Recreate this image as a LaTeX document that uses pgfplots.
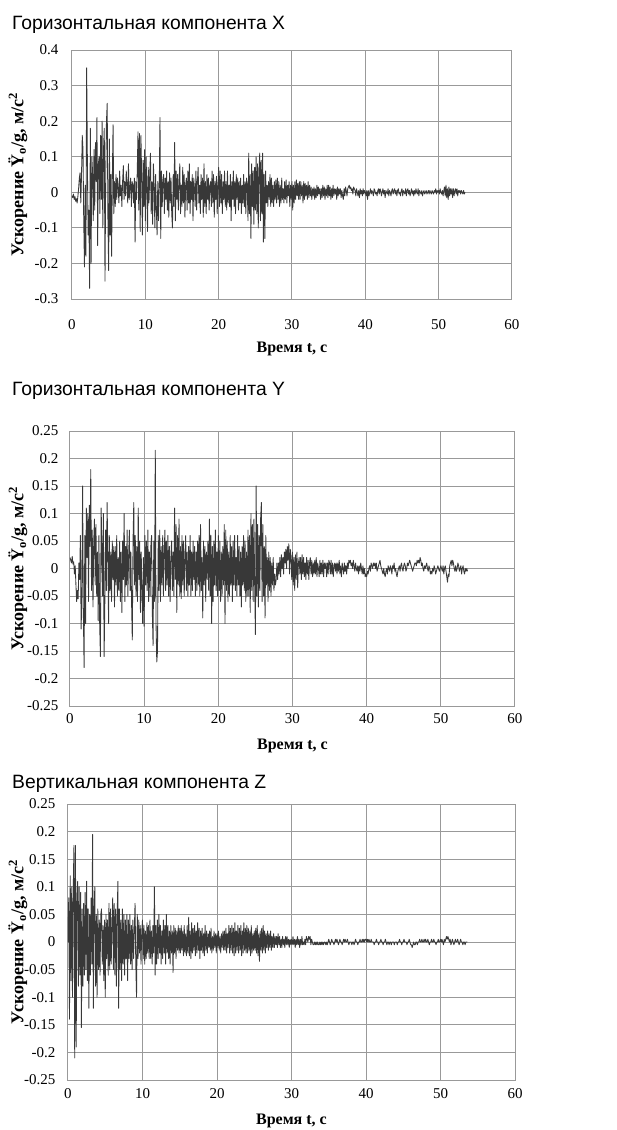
\documentclass[border=0pt]{standalone}
\usepackage{pgfplots}
\pgfplotsset{compat=1.18}
\usepackage{fontspec}
\setmainfont{Liberation Serif}
\newfontfamily\arialfont{Liberation Sans}

\pgfplotsset{
  seis/.style={
    scale only axis,
    xmin=0, xmax=60,
    xtick={0,10,...,60},
    grid=major,
    major grid style={draw=black!40, line width=1pt},
    axis line style={draw=black!40, line width=1pt},
    major tick length=0pt,
    tick label style={font=\fontsize{15}{16}\selectfont},
    scaled y ticks=false,
    /pgf/number format/assume math mode=true,
    yticklabel style={/pgf/number format/fixed, /pgf/number format/precision=2},
    xlabel style={font=\bfseries\fontsize{16}{18}\selectfont},
    ylabel style={font=\bfseries\fontsize{18}{20}\selectfont},
    xlabel={Время t, с},
    ylabel={Ускорение Ÿ\textsubscript{o}/g, м/с\textsuperscript{2}},
    ylabel style={anchor=center},
    xlabel style={anchor=center},
  },
  sig/.style={draw=black!78, line width=0.85pt, line join=round, mark=none},
}

\begin{document}
\begin{tikzpicture}
\useasboundingbox (0pt,0pt) rectangle (617pt,-1130pt);

\node[anchor=west, font=\arialfont\fontsize{19.3}{21}\selectfont, inner sep=0pt] at (12pt,-25pt) {Горизонтальная компонента X};
\node[anchor=west, font=\arialfont\fontsize{19.3}{21}\selectfont, inner sep=0pt] at (12pt,-391pt) {Горизонтальная компонента Y};
\node[anchor=west, font=\arialfont\fontsize{19.3}{21}\selectfont, inner sep=0pt] at (12pt,-784pt) {Вертикальная компонента Z};

% ---------------- X ----------------
\begin{axis}[seis, at={(72pt,-299pt)}, anchor=south west,
  width=440pt, height=249pt,
  ymin=-0.3, ymax=0.4, ytick={-0.3,-0.2,...,0.4},
  xticklabel style={yshift=-17pt},
  yticklabel style={xshift=-10pt},
  xlabel style={at={(axis description cs:0.5,-0.20)}},
  ylabel style={at={(axis description cs:-0.123,0.5)}},
]
\addplot[sig] table[header=false, row sep=\\, x expr=\coordindex*0.1, y index=0] {
-0.010\\ -0.015\\ -0.005\\ -0.020\\ -0.012\\ -0.025\\ -0.018\\ -0.030\\ -0.012\\ 0.010\\
0.040\\ 0.055\\ -0.030\\ 0.050\\ 0.160\\ 0.120\\ -0.080\\ -0.210\\ 0.020\\ -0.180\\
0.350\\ 0.080\\ -0.120\\ -0.050\\ -0.270\\ 0.180\\ -0.200\\ 0.100\\ 0.060\\ -0.080\\
0.120\\ -0.050\\ 0.140\\ 0.030\\ 0.210\\ -0.150\\ 0.080\\ 0.100\\ -0.060\\ 0.160\\
-0.020\\ 0.200\\ -0.100\\ 0.120\\ 0.180\\ -0.250\\ 0.050\\ 0.200\\ 0.250\\ -0.080\\
-0.220\\ 0.150\\ -0.120\\ 0.050\\ -0.180\\ 0.040\\ 0.190\\ -0.060\\ 0.030\\ -0.040\\
0.050\\ -0.020\\ 0.040\\ 0.010\\ -0.030\\ 0.060\\ -0.010\\ 0.020\\ -0.040\\ 0.030\\
0.075\\ -0.020\\ 0.030\\ -0.010\\ 0.060\\ 0.020\\ -0.030\\ 0.080\\ -0.020\\ 0.010\\
0.040\\ -0.040\\ 0.030\\ 0.020\\ -0.030\\ 0.040\\ -0.140\\ 0.030\\ -0.020\\ 0.060\\
0.170\\ -0.050\\ 0.165\\ -0.110\\ 0.160\\ 0.040\\ -0.120\\ 0.090\\ -0.040\\ 0.120\\
-0.080\\ 0.100\\ 0.020\\ -0.110\\ 0.070\\ -0.030\\ 0.050\\ 0.110\\ -0.060\\ 0.030\\
-0.090\\ 0.080\\ 0.020\\ -0.100\\ 0.050\\ -0.040\\ -0.120\\ 0.030\\ -0.080\\ 0.020\\
0.210\\ -0.130\\ 0.060\\ -0.040\\ 0.030\\ 0.050\\ -0.060\\ 0.040\\ -0.020\\ 0.060\\
-0.050\\ 0.030\\ -0.070\\ 0.055\\ -0.030\\ 0.040\\ -0.060\\ -0.100\\ 0.050\\ -0.040\\
0.140\\ -0.080\\ 0.060\\ -0.020\\ 0.050\\ -0.050\\ 0.030\\ 0.080\\ -0.060\\ 0.020\\
-0.040\\ 0.070\\ -0.030\\ 0.050\\ -0.070\\ 0.020\\ 0.040\\ -0.050\\ 0.060\\ -0.030\\
0.080\\ -0.060\\ 0.030\\ -0.020\\ 0.050\\ -0.080\\ 0.040\\ 0.010\\ -0.040\\ 0.060\\
-0.050\\ 0.030\\ 0.070\\ -0.030\\ 0.020\\ -0.060\\ 0.050\\ -0.020\\ 0.040\\ -0.070\\
0.080\\ -0.040\\ 0.030\\ -0.060\\ 0.050\\ -0.020\\ 0.040\\ -0.050\\ 0.020\\ 0.030\\
-0.040\\ 0.060\\ -0.030\\ 0.050\\ -0.070\\ 0.030\\ -0.020\\ 0.045\\ -0.060\\ 0.020\\
0.070\\ -0.040\\ 0.060\\ -0.030\\ 0.050\\ -0.060\\ 0.030\\ -0.020\\ 0.060\\ -0.040\\
0.030\\ -0.050\\ 0.060\\ -0.030\\ 0.020\\ -0.040\\ 0.050\\ -0.080\\ 0.030\\ -0.020\\
0.060\\ -0.040\\ 0.030\\ -0.060\\ 0.050\\ -0.020\\ 0.040\\ -0.050\\ 0.030\\ -0.030\\
0.040\\ -0.060\\ 0.020\\ -0.030\\ 0.050\\ -0.040\\ 0.030\\ -0.060\\ 0.040\\ 0.020\\
-0.080\\ 0.110\\ -0.060\\ 0.050\\ -0.130\\ 0.080\\ -0.040\\ 0.060\\ -0.090\\ 0.070\\
-0.050\\ 0.100\\ -0.060\\ 0.080\\ -0.100\\ 0.060\\ 0.110\\ -0.080\\ 0.090\\ -0.060\\
0.110\\ -0.140\\ 0.050\\ -0.130\\ 0.060\\ -0.030\\ 0.020\\ -0.040\\ 0.030\\ -0.020\\
0.050\\ -0.040\\ 0.040\\ -0.030\\ 0.020\\ -0.040\\ 0.030\\ -0.020\\ 0.035\\ -0.030\\
0.040\\ -0.020\\ 0.030\\ -0.040\\ 0.020\\ -0.030\\ 0.040\\ -0.020\\ 0.010\\ -0.030\\
0.030\\ -0.020\\ 0.035\\ -0.030\\ 0.020\\ -0.010\\ 0.030\\ -0.040\\ 0.020\\ -0.020\\
0.030\\ -0.050\\ 0.020\\ -0.030\\ 0.030\\ -0.020\\ 0.035\\ -0.010\\ 0.025\\ -0.020\\
0.030\\ -0.020\\ 0.030\\ -0.010\\ 0.020\\ -0.030\\ 0.030\\ -0.020\\ 0.025\\ -0.010\\
0.020\\ -0.020\\ 0.030\\ -0.015\\ 0.020\\ -0.010\\ 0.015\\ -0.020\\ 0.010\\ -0.010\\
0.015\\ -0.020\\ 0.010\\ -0.015\\ 0.020\\ -0.010\\ 0.015\\ -0.005\\ 0.010\\ -0.020\\
0.010\\ -0.015\\ 0.020\\ -0.010\\ 0.015\\ -0.020\\ 0.010\\ -0.010\\ 0.020\\ -0.015\\
0.020\\ -0.010\\ 0.015\\ -0.020\\ 0.010\\ -0.015\\ 0.020\\ -0.010\\ 0.010\\ -0.005\\
0.010\\ -0.020\\ 0.015\\ -0.010\\ 0.010\\ -0.005\\ 0.010\\ -0.015\\ 0.005\\ -0.010\\
-0.020\\ 0.010\\ -0.010\\ 0.015\\ 0.005\\ -0.010\\ 0.010\\ 0.015\\ 0.020\\ 0.010\\
0.015\\ 0.005\\ 0.010\\ -0.005\\ 0.015\\ 0.010\\ 0.005\\ -0.010\\ 0.010\\ 0.000\\
-0.010\\ 0.005\\ -0.015\\ 0.010\\ -0.005\\ 0.005\\ -0.010\\ 0.010\\ -0.005\\ 0.005\\
0.000\\ -0.010\\ 0.005\\ -0.020\\ 0.005\\ -0.010\\ 0.000\\ 0.010\\ -0.005\\ 0.005\\
0.000\\ -0.010\\ 0.010\\ 0.005\\ -0.005\\ 0.000\\ -0.010\\ 0.005\\ 0.010\\ -0.005\\
0.010\\ 0.005\\ -0.010\\ 0.000\\ 0.010\\ -0.005\\ 0.005\\ -0.015\\ 0.005\\ 0.000\\
-0.005\\ 0.010\\ -0.010\\ 0.005\\ 0.000\\ -0.010\\ 0.005\\ 0.010\\ -0.005\\ 0.005\\
0.010\\ -0.005\\ 0.005\\ -0.010\\ 0.005\\ 0.010\\ -0.005\\ 0.000\\ -0.010\\ 0.005\\
0.010\\ -0.010\\ 0.005\\ 0.000\\ -0.005\\ 0.010\\ -0.010\\ 0.005\\ 0.010\\ -0.005\\
0.005\\ -0.010\\ 0.000\\ 0.010\\ -0.005\\ 0.005\\ -0.010\\ 0.005\\ -0.005\\ 0.010\\
0.000\\ -0.005\\ 0.010\\ -0.010\\ 0.005\\ 0.000\\ -0.005\\ 0.005\\ -0.010\\ 0.000\\
0.005\\ -0.005\\ 0.000\\ 0.005\\ -0.005\\ 0.000\\ 0.005\\ -0.005\\ 0.005\\ 0.000\\
-0.005\\ 0.005\\ 0.000\\ -0.005\\ 0.005\\ 0.000\\ 0.010\\ -0.005\\ 0.005\\ 0.000\\
0.005\\ -0.005\\ 0.010\\ 0.000\\ -0.005\\ 0.005\\ -0.010\\ 0.005\\ 0.015\\ -0.010\\
0.020\\ -0.015\\ 0.010\\ -0.020\\ 0.015\\ -0.010\\ 0.010\\ -0.005\\ 0.010\\ -0.015\\
0.010\\ -0.010\\ 0.005\\ 0.010\\ -0.005\\ 0.010\\ -0.010\\ 0.005\\ 0.000\\ 0.005\\
-0.005\\ 0.005\\ 0.000\\ -0.005\\ 0.005\\ -0.005\\ 0.000\\
};
\end{axis}

% ---------------- Y ----------------
\begin{axis}[seis, at={(70pt,-706pt)}, anchor=south west,
  width=445pt, height=275pt,
  ymin=-0.25, ymax=0.25, ytick={-0.25,-0.2,-0.15,-0.1,-0.05,0,0.05,0.1,0.15,0.2,0.25},
  xticklabel style={yshift=-4pt},
  yticklabel style={xshift=-8pt},
  xlabel style={at={(axis description cs:0.5,-0.145)}},
  ylabel style={at={(axis description cs:-0.117,0.5)}},
]
\addplot[sig] table[header=false, row sep=\\, x expr=\coordindex*0.1, y index=0] {
0.020\\ 0.015\\ 0.010\\ 0.022\\ 0.008\\ 0.012\\ -0.010\\ 0.005\\ -0.030\\ -0.060\\
-0.040\\ -0.055\\ 0.010\\ -0.020\\ 0.060\\ -0.110\\ -0.050\\ 0.150\\ -0.080\\ -0.180\\
0.060\\ -0.100\\ 0.110\\ 0.020\\ 0.100\\ -0.060\\ 0.115\\ 0.040\\ 0.180\\ -0.040\\
0.070\\ -0.070\\ 0.050\\ 0.090\\ -0.030\\ 0.080\\ -0.050\\ 0.030\\ -0.095\\ 0.060\\
-0.100\\ -0.160\\ 0.110\\ 0.040\\ -0.050\\ 0.100\\ -0.160\\ -0.060\\ 0.070\\ -0.040\\
0.120\\ 0.030\\ -0.100\\ 0.060\\ -0.040\\ 0.030\\ -0.060\\ 0.050\\ -0.020\\ 0.040\\
-0.070\\ 0.040\\ -0.030\\ 0.060\\ -0.050\\ 0.020\\ -0.040\\ 0.050\\ -0.060\\ 0.030\\
-0.080\\ 0.050\\ -0.020\\ 0.100\\ -0.060\\ 0.040\\ -0.030\\ 0.070\\ -0.050\\ 0.020\\
0.070\\ -0.040\\ 0.030\\ -0.060\\ -0.130\\ 0.050\\ 0.120\\ -0.030\\ 0.060\\ -0.050\\
0.040\\ -0.060\\ 0.110\\ -0.020\\ 0.050\\ -0.080\\ 0.030\\ -0.040\\ -0.100\\ 0.020\\
-0.105\\ 0.060\\ -0.030\\ 0.050\\ -0.040\\ 0.070\\ -0.060\\ 0.030\\ -0.050\\ 0.040\\
0.060\\ -0.080\\ -0.140\\ 0.050\\ -0.060\\ 0.215\\ -0.100\\ -0.170\\ -0.150\\ 0.060\\
-0.040\\ 0.070\\ -0.060\\ 0.040\\ -0.030\\ 0.060\\ -0.050\\ 0.030\\ 0.070\\ -0.040\\
0.050\\ -0.030\\ 0.060\\ -0.050\\ 0.040\\ -0.060\\ 0.020\\ 0.050\\ -0.040\\ 0.030\\
-0.050\\ 0.110\\ -0.020\\ 0.080\\ -0.080\\ 0.060\\ -0.030\\ 0.090\\ -0.050\\ 0.040\\
-0.055\\ 0.060\\ -0.030\\ 0.050\\ -0.050\\ 0.020\\ 0.060\\ -0.040\\ 0.030\\ -0.050\\
0.040\\ -0.030\\ 0.060\\ -0.050\\ 0.030\\ -0.040\\ 0.050\\ -0.020\\ 0.040\\ -0.050\\
0.030\\ -0.040\\ 0.050\\ -0.030\\ 0.060\\ -0.050\\ 0.080\\ -0.040\\ 0.020\\ -0.090\\
0.050\\ -0.030\\ 0.040\\ -0.060\\ 0.030\\ -0.020\\ 0.050\\ -0.040\\ 0.090\\ -0.050\\
0.060\\ -0.100\\ 0.040\\ -0.060\\ 0.050\\ -0.030\\ 0.070\\ -0.040\\ 0.030\\ -0.050\\
0.060\\ -0.040\\ 0.050\\ -0.060\\ 0.030\\ -0.050\\ 0.040\\ -0.030\\ 0.080\\ -0.100\\
0.070\\ -0.040\\ 0.050\\ -0.060\\ 0.030\\ -0.050\\ 0.060\\ -0.030\\ 0.040\\ -0.060\\
0.050\\ -0.030\\ 0.060\\ -0.040\\ 0.020\\ -0.050\\ 0.060\\ -0.030\\ 0.040\\ -0.050\\
0.030\\ -0.070\\ 0.040\\ -0.030\\ 0.060\\ -0.040\\ 0.050\\ -0.060\\ 0.030\\ -0.050\\
0.070\\ -0.050\\ 0.060\\ -0.080\\ 0.100\\ -0.040\\ 0.080\\ -0.060\\ 0.090\\ -0.030\\
-0.120\\ 0.150\\ -0.050\\ 0.080\\ -0.070\\ 0.060\\ -0.040\\ 0.090\\ 0.120\\ -0.060\\
0.080\\ -0.050\\ 0.040\\ -0.090\\ 0.060\\ -0.030\\ 0.020\\ -0.060\\ 0.030\\ -0.040\\
0.020\\ -0.050\\ 0.010\\ -0.030\\ 0.020\\ -0.040\\ -0.010\\ -0.030\\ -0.020\\ 0.010\\
-0.020\\ 0.010\\ -0.010\\ 0.020\\ -0.015\\ 0.025\\ 0.000\\ 0.020\\ -0.010\\ 0.030\\
0.010\\ 0.035\\ 0.000\\ 0.040\\ 0.015\\ 0.045\\ -0.010\\ 0.035\\ 0.020\\ -0.020\\
0.030\\ -0.030\\ 0.020\\ -0.040\\ 0.025\\ -0.020\\ 0.030\\ -0.035\\ 0.010\\ 0.020\\
-0.010\\ 0.020\\ -0.020\\ 0.025\\ -0.010\\ 0.020\\ -0.015\\ 0.010\\ -0.020\\ 0.020\\
-0.010\\ 0.015\\ -0.020\\ 0.010\\ 0.020\\ -0.010\\ 0.015\\ -0.015\\ 0.010\\ -0.010\\
0.015\\ -0.010\\ 0.020\\ -0.015\\ 0.010\\ 0.000\\ -0.015\\ 0.015\\ -0.010\\ 0.010\\
-0.010\\ 0.015\\ -0.015\\ 0.010\\ 0.000\\ 0.010\\ -0.015\\ 0.010\\ -0.010\\ 0.015\\
0.010\\ -0.010\\ 0.015\\ -0.010\\ 0.010\\ -0.015\\ 0.005\\ 0.010\\ -0.005\\ 0.010\\
-0.010\\ 0.010\\ -0.005\\ 0.015\\ -0.010\\ 0.005\\ -0.015\\ 0.010\\ 0.000\\ -0.010\\
0.010\\ -0.005\\ 0.005\\ -0.010\\ 0.010\\ 0.000\\ 0.015\\ 0.010\\ 0.015\\ 0.005\\
0.010\\ 0.000\\ 0.015\\ 0.005\\ -0.005\\ 0.010\\ 0.000\\ -0.005\\ 0.005\\ -0.010\\
0.005\\ -0.005\\ 0.010\\ 0.000\\ -0.010\\ 0.005\\ -0.010\\ 0.000\\ -0.015\\ -0.010\\
-0.015\\ -0.005\\ -0.010\\ 0.000\\ 0.005\\ -0.005\\ 0.010\\ 0.005\\ 0.000\\ 0.010\\
0.005\\ 0.010\\ 0.000\\ 0.010\\ -0.005\\ 0.000\\ 0.005\\ 0.010\\ 0.015\\ 0.005\\
0.000\\ -0.005\\ -0.010\\ 0.000\\ -0.010\\ -0.015\\ -0.005\\ 0.000\\ -0.010\\ 0.005\\
0.000\\ -0.005\\ 0.005\\ 0.000\\ -0.010\\ 0.005\\ 0.000\\ 0.010\\ -0.005\\ 0.000\\
-0.010\\ -0.015\\ -0.005\\ 0.000\\ 0.005\\ -0.005\\ 0.005\\ 0.010\\ 0.000\\ -0.005\\
0.005\\ 0.010\\ 0.005\\ -0.005\\ 0.000\\ 0.010\\ 0.005\\ 0.010\\ 0.015\\ 0.010\\
0.005\\ 0.000\\ -0.005\\ 0.000\\ 0.005\\ 0.010\\ 0.010\\ 0.005\\ 0.015\\ 0.010\\
0.015\\ 0.010\\ 0.020\\ 0.015\\ 0.005\\ 0.010\\ 0.000\\ -0.005\\ 0.005\\ 0.000\\
0.005\\ 0.010\\ 0.000\\ -0.005\\ 0.005\\ 0.000\\ -0.010\\ -0.005\\ -0.010\\ 0.000\\
-0.005\\ 0.005\\ 0.000\\ -0.010\\ -0.005\\ 0.000\\ 0.005\\ 0.000\\ -0.005\\ 0.000\\
0.005\\ 0.000\\ -0.005\\ 0.005\\ -0.010\\ 0.000\\ 0.005\\ -0.005\\ -0.015\\ -0.025\\
-0.010\\ -0.015\\ 0.005\\ 0.010\\ 0.015\\ 0.005\\ 0.015\\ 0.010\\ 0.000\\ -0.005\\
0.005\\ -0.005\\ 0.000\\ 0.010\\ 0.005\\ -0.005\\ 0.000\\ 0.005\\ -0.010\\ 0.000\\
0.005\\ -0.005\\ -0.010\\ 0.000\\ -0.005\\ 0.000\\ -0.005\\
};
\end{axis}

% ---------------- Z ----------------
\begin{axis}[seis, at={(68pt,-1080pt)}, anchor=south west,
  width=447pt, height=276pt,
  ymin=-0.25, ymax=0.25, ytick={-0.25,-0.2,-0.15,-0.1,-0.05,0,0.05,0.1,0.15,0.2,0.25},
  xticklabel style={yshift=-5pt},
  yticklabel style={xshift=-9pt},
  xlabel style={at={(axis description cs:0.5,-0.148)}},
  ylabel style={at={(axis description cs:-0.112,0.5)}},
]
\addplot[sig] table[header=false, row sep=\\, x expr=\coordindex*0.1, y index=0] {
0.000\\ 0.080\\ -0.140\\ 0.120\\ -0.070\\ 0.100\\ -0.100\\ 0.090\\ 0.175\\ -0.210\\
0.175\\ -0.190\\ 0.080\\ 0.110\\ -0.080\\ 0.100\\ -0.060\\ 0.090\\ -0.155\\ 0.060\\
-0.080\\ 0.070\\ -0.060\\ 0.090\\ -0.050\\ 0.110\\ -0.070\\ 0.060\\ -0.120\\ 0.050\\
-0.060\\ 0.080\\ -0.040\\ 0.195\\ -0.120\\ 0.060\\ 0.100\\ -0.080\\ 0.050\\ -0.100\\
0.060\\ -0.050\\ 0.040\\ -0.060\\ 0.050\\ 0.060\\ -0.040\\ 0.030\\ -0.070\\ 0.040\\
-0.100\\ 0.050\\ -0.030\\ 0.040\\ -0.060\\ 0.070\\ -0.050\\ 0.060\\ -0.040\\ 0.030\\
0.080\\ -0.050\\ 0.070\\ -0.060\\ 0.060\\ -0.080\\ 0.050\\ 0.110\\ -0.120\\ 0.060\\
-0.050\\ 0.040\\ -0.070\\ 0.060\\ -0.040\\ 0.050\\ -0.060\\ 0.040\\ -0.030\\ 0.050\\
-0.070\\ 0.040\\ -0.030\\ 0.050\\ -0.040\\ 0.030\\ -0.050\\ 0.040\\ -0.030\\ 0.020\\
0.070\\ -0.040\\ -0.100\\ 0.050\\ -0.030\\ 0.040\\ -0.020\\ 0.030\\ -0.040\\ 0.020\\
0.040\\ -0.030\\ 0.030\\ -0.040\\ 0.020\\ -0.030\\ 0.035\\ -0.020\\ 0.030\\ -0.030\\
0.040\\ -0.030\\ 0.020\\ -0.040\\ 0.030\\ -0.020\\ 0.100\\ -0.060\\ 0.030\\ -0.040\\
0.040\\ -0.030\\ 0.050\\ -0.020\\ 0.030\\ -0.040\\ 0.020\\ -0.030\\ 0.040\\ -0.020\\
0.030\\ -0.040\\ 0.050\\ -0.020\\ 0.030\\ -0.030\\ 0.020\\ -0.040\\ 0.030\\ -0.020\\
0.020\\ -0.055\\ 0.030\\ -0.020\\ 0.025\\ -0.030\\ 0.020\\ -0.015\\ 0.030\\ -0.020\\
0.025\\ -0.020\\ 0.030\\ -0.015\\ 0.020\\ -0.025\\ 0.030\\ -0.020\\ 0.015\\ -0.025\\
0.030\\ -0.020\\ 0.045\\ -0.025\\ 0.020\\ -0.030\\ 0.035\\ -0.020\\ 0.025\\ -0.015\\
0.030\\ -0.025\\ 0.020\\ -0.020\\ 0.035\\ -0.015\\ 0.025\\ -0.030\\ 0.020\\ -0.015\\
0.025\\ -0.020\\ 0.015\\ -0.025\\ 0.030\\ -0.015\\ 0.020\\ -0.020\\ 0.015\\ -0.010\\
0.020\\ -0.015\\ 0.025\\ -0.020\\ 0.010\\ -0.015\\ 0.020\\ -0.010\\ 0.015\\ -0.020\\
0.015\\ -0.010\\ 0.020\\ -0.015\\ 0.010\\ -0.020\\ 0.015\\ -0.010\\ 0.020\\ -0.015\\
0.020\\ -0.015\\ 0.025\\ -0.020\\ 0.015\\ -0.010\\ 0.030\\ -0.020\\ 0.025\\ -0.015\\
0.030\\ -0.020\\ 0.025\\ -0.025\\ 0.035\\ -0.020\\ 0.020\\ -0.015\\ 0.030\\ -0.020\\
0.025\\ -0.015\\ 0.030\\ -0.025\\ 0.020\\ -0.020\\ 0.035\\ -0.015\\ 0.025\\ -0.020\\
0.030\\ -0.020\\ 0.025\\ -0.015\\ 0.020\\ -0.025\\ 0.030\\ -0.020\\ 0.015\\ -0.015\\
0.020\\ -0.015\\ 0.025\\ -0.020\\ 0.030\\ -0.025\\ 0.015\\ -0.035\\ 0.020\\ -0.015\\
0.025\\ -0.020\\ 0.030\\ -0.015\\ 0.020\\ -0.020\\ 0.015\\ -0.010\\ 0.020\\ -0.015\\
0.015\\ -0.010\\ 0.020\\ -0.015\\ 0.010\\ -0.010\\ 0.015\\ -0.010\\ 0.010\\ -0.005\\
0.010\\ -0.010\\ 0.015\\ -0.005\\ 0.010\\ -0.010\\ 0.005\\ -0.010\\ 0.010\\ -0.005\\
0.005\\ -0.010\\ 0.010\\ -0.005\\ 0.010\\ -0.005\\ 0.005\\ -0.010\\ 0.005\\ -0.005\\
0.005\\ -0.005\\ 0.010\\ -0.005\\ 0.005\\ -0.010\\ 0.005\\ -0.005\\ 0.010\\ -0.005\\
0.005\\ -0.010\\ 0.005\\ -0.005\\ 0.010\\ -0.005\\ 0.000\\ -0.005\\ 0.005\\ -0.005\\
0.010\\ 0.005\\ 0.000\\ 0.010\\ 0.005\\ 0.010\\ -0.005\\ 0.005\\ 0.000\\ -0.005\\
-0.005\\ 0.000\\ -0.005\\ 0.000\\ -0.005\\ 0.000\\ -0.005\\ -0.005\\ 0.000\\ -0.005\\
0.000\\ -0.005\\ 0.000\\ -0.005\\ 0.000\\ 0.000\\ -0.005\\ 0.000\\ -0.005\\ 0.000\\
0.005\\ 0.000\\ -0.005\\ 0.000\\ 0.005\\ 0.000\\ 0.000\\ -0.005\\ 0.000\\ 0.005\\
0.000\\ 0.005\\ 0.000\\ -0.005\\ 0.000\\ 0.005\\ 0.000\\ 0.000\\ -0.005\\ 0.000\\
0.005\\ 0.000\\ 0.005\\ 0.000\\ 0.000\\ 0.005\\ 0.000\\ -0.005\\ 0.000\\ 0.000\\
0.000\\ -0.005\\ 0.000\\ 0.000\\ -0.005\\ 0.000\\ 0.005\\ 0.000\\ 0.000\\ -0.005\\
0.000\\ 0.000\\ 0.005\\ 0.000\\ 0.000\\ 0.005\\ 0.000\\ 0.005\\ 0.000\\ 0.005\\
0.005\\ 0.000\\ 0.005\\ 0.000\\ 0.005\\ 0.000\\ 0.000\\ 0.005\\ 0.000\\ 0.000\\
0.000\\ -0.005\\ 0.000\\ 0.000\\ 0.005\\ 0.000\\ 0.000\\ -0.005\\ 0.000\\ 0.000\\
0.005\\ 0.000\\ 0.000\\ -0.005\\ 0.000\\ 0.000\\ 0.005\\ 0.000\\ -0.005\\ 0.000\\
0.000\\ -0.005\\ 0.000\\ 0.000\\ -0.005\\ 0.000\\ 0.000\\ 0.000\\ -0.005\\ 0.000\\
0.000\\ 0.000\\ -0.005\\ 0.000\\ 0.000\\ 0.005\\ 0.000\\ 0.000\\ -0.005\\ 0.000\\
0.000\\ 0.005\\ 0.000\\ 0.000\\ 0.000\\ -0.005\\ 0.000\\ 0.000\\ 0.005\\ 0.000\\
-0.005\\ -0.005\\ -0.010\\ -0.005\\ 0.000\\ -0.005\\ -0.005\\ 0.000\\ 0.000\\ -0.005\\
0.000\\ 0.000\\ 0.005\\ 0.000\\ 0.000\\ 0.005\\ 0.000\\ 0.000\\ 0.005\\ 0.000\\
0.005\\ 0.000\\ 0.000\\ 0.005\\ 0.000\\ -0.005\\ 0.000\\ 0.000\\ 0.005\\ 0.000\\
0.000\\ 0.005\\ 0.000\\ 0.000\\ -0.005\\ 0.000\\ 0.000\\ 0.005\\ 0.000\\ 0.000\\
0.005\\ 0.000\\ 0.005\\ 0.000\\ -0.005\\ 0.005\\ 0.000\\ 0.005\\ 0.010\\ 0.005\\
0.010\\ 0.005\\ 0.000\\ 0.005\\ -0.005\\ 0.000\\ 0.005\\ 0.000\\ -0.005\\ 0.000\\
0.005\\ 0.000\\ 0.000\\ 0.005\\ 0.000\\ -0.005\\ 0.000\\ 0.005\\ 0.000\\ 0.000\\
-0.005\\ 0.000\\ 0.000\\ -0.005\\ 0.000\\ 0.000\\ 0.000\\
};
\end{axis}
\end{tikzpicture}
\end{document}
